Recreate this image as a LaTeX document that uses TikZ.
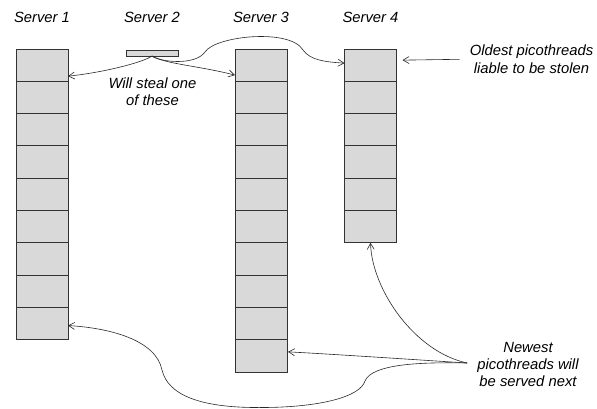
\documentclass[tikz,border=0pt]{standalone}
\usepackage{fontspec}
\setmainfont{Liberation Sans}
\usetikzlibrary{arrows.meta}
\usetikzlibrary{calc}
\definecolor{cellfill}{RGB}{217,217,217}
\definecolor{wire}{RGB}{40,40,40}
\tikzset{
  cell/.style={rectangle, fill=cellfill, draw=black!80, line width=0.8pt,
    minimum width=52pt, minimum height=32.3pt, inner sep=0pt, outer sep=0pt},
  wirearrow/.style={draw=wire, line width=0.6pt, -{Straight Barb[length=6pt,width=7pt]}},
  caption/.style={font=\fontsize{14.8}{17.3}\selectfont\itshape, align=center, inner sep=2pt},
}

\begin{document}
\begin{tikzpicture}[x=1pt,y=-1pt]
      \useasboundingbox (0,0) rectangle (597,409);

      % server names
      \node[caption, anchor=base] (name1) at (42,23) {Server 1};
      \node[caption, anchor=base] (name2) at (152,23) {Server 2};
      \node[caption, anchor=base] (name3) at (261,23) {Server 3};
      \node[caption, anchor=base] (name4) at (370.5,23) {Server 4};

      % queues
      \foreach \i in {1,...,9}
        \node[cell] (s1c\i) at (42,{49+32.3*(\i-0.5)}) {};
      \node[cell, minimum height=6pt] (s2) at (152,53) {};
      \foreach \i in {1,...,10}
        \node[cell] (s3c\i) at (261,{49+32.3*(\i-0.5)}) {};
      \foreach \i in {1,...,6}
        \node[cell] (s4c\i) at (370.5,{49+32.3*(\i-0.5)}) {};

      % notes
      \node[caption] (steal) at (152.5,91.5) {Will steal one\\of these};
      \node[caption] (oldest) at (531.5,59.3) {Oldest picothreads\\liable to be stolen};
      \node[caption] (newest) at (528,364.5) {Newest\\picothreads will\\be served next};

      % stealing
      \draw[wirearrow] (s2.south) .. controls (142,63) and (100,73) .. ($(s1c1.east)+(0,11)$);
      \draw[wirearrow] (s2.south) .. controls (165,64) and (200,66) .. ($(s3c1.west)+(0,10)$);
      \draw[wirearrow] (s2.south) .. controls (160,62) and (195,66) .. (205,52)
        .. controls (215,36) and (290,28) .. (303,50)
        .. controls (310,60) and (325,62) .. ($(s4c1.west)+(0,-2)$);
      \draw[wirearrow] ([xshift=-8pt]oldest.west) -- ($(s4c1.east)+(6,-5)$);

      % serving
      \coordinate (newsrc) at ($(newest.west)+(-8,-1.5)$);
      \draw[wirearrow] (newsrc) .. controls (420,360) and (330,354) .. ($(s3c10.east)+(1,-4)$);
      \draw[wirearrow] (newsrc) .. controls (415,352) and (372,290) .. (s4c6.south);
      \draw[wirearrow] (newsrc) .. controls (420,362) and (372,364) .. (365,381)
        .. controls (360,397) and (320,407) .. (265,407.5)
        .. controls (200,408.5) and (168,395) .. (162,370)
        .. controls (156,340) and (110,328) .. ($(s1c9.east)+(0,2)$);
\end{tikzpicture}
\end{document}
